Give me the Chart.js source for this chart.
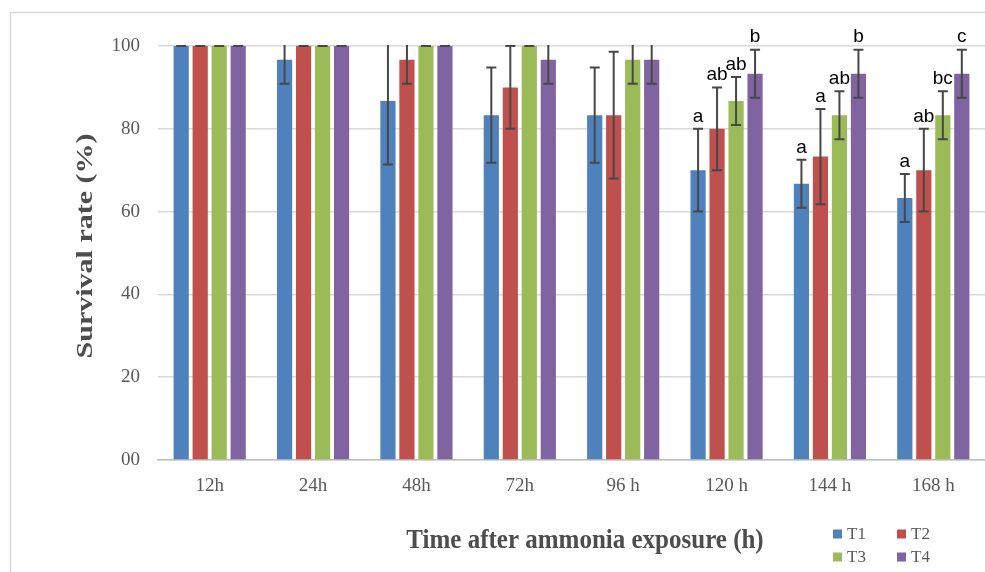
<!DOCTYPE html>
<html>
<head>
<meta charset="utf-8">
<title>Survival rate</title>
<script src="https://cdn.jsdelivr.net/npm/chart.js@4"></script>
<style>
  html, body { margin: 0; padding: 0; background: #fff; }
  #wrap { width: 985px; height: 572px; position: relative; }
</style>
</head>
<body>
<div id="wrap"><canvas id="grafico" width="985" height="572"></canvas></div>
<script>
// --- dados ---
const categorias = ['12h', '24h', '48h', '72h', '96 h', '120 h', '144 h', '168 h'];
const yTickLabels = ['00', '20', '40', '60', '80', '100'];

const nomesSeries = ['T1', 'T2', 'T3', 'T4'];
const coresSeries = ['#4f81bd', '#c0504d', '#9bbb59', '#8064a2'];

const valoresT1 = [100, 96.7, 86.7, 83.3, 83.3, 70, 66.7, 63.3];
const valoresT2 = [100, 100, 96.7, 90, 83.3, 80, 73.3, 70];
const valoresT3 = [100, 100, 100, 100, 96.7, 86.7, 83.3, 83.3];
const valoresT4 = [100, 100, 100, 96.7, 96.7, 93.3, 93.3, 93.3];

const erroT1 = [0, 5.8, 15.3, 11.5, 11.5, 10, 5.8, 5.8];
const erroT2 = [0, 0, 5.8, 10, 15.3, 10, 11.5, 10];
const erroT3 = [0, 0, 0, 0, 5.8, 5.8, 5.8, 5.8];
const erroT4 = [0, 0, 0, 5.8, 5.8, 5.8, 5.8, 5.8];

const letrasT1 = ['', '', '', '', '', 'a', 'a', 'a'];
const letrasT2 = ['', '', '', '', '', 'ab', 'a', 'ab'];
const letrasT3 = ['', '', '', '', '', 'ab', 'ab', 'bc'];
const letrasT4 = ['', '', '', '', '', 'b', 'b', 'c'];

const valores = [valoresT1, valoresT2, valoresT3, valoresT4];
const erros = [erroT1, erroT2, erroT3, erroT4];
const letras = [letrasT1, letrasT2, letrasT3, letrasT4];

const tituloX = 'Time after ammonia exposure (h)';
const tituloY = 'Survival rate (%)';

const fonteSerif = "'Liberation Serif', 'Times New Roman', serif";
const corTexto = '#595959';
const corTitulo = '#4d4d4d';

// --- barras de erro (desenhadas com as escalas do Chart.js) ---
const pluginErros = {
  id: 'barrasErro',
  afterDatasetsDraw(chart) {
    const ctx = chart.ctx;
    const y = chart.scales.y;
    const area = chart.chartArea;
    ctx.save();
    ctx.beginPath();
    ctx.rect(area.left, area.top - 1, area.right - area.left, area.bottom - area.top + 2);
    ctx.clip();
    ctx.strokeStyle = '#474747';
    ctx.lineWidth = 2;
    chart.data.datasets.forEach((ds, i) => {
      const meta = chart.getDatasetMeta(i);
      meta.data.forEach((bar, j) => {
        const v = ds.data[j];
        const e = erros[i][j];
        const yTop = y.getPixelForValue(v + e);
        const yBot = y.getPixelForValue(v - e);
        const cap = 5;
        ctx.beginPath();
        ctx.moveTo(bar.x, yTop);
        ctx.lineTo(bar.x, yBot);
        ctx.moveTo(bar.x - cap, yTop);
        ctx.lineTo(bar.x + cap, yTop);
        ctx.moveTo(bar.x - cap, yBot);
        ctx.lineTo(bar.x + cap, yBot);
        ctx.stroke();
      });
    });
    ctx.restore();
  }
};

// --- letras, títulos, legenda e moldura ---
const pluginExtras = {
  id: 'extras',
  afterDraw(chart) {
    const ctx = chart.ctx;
    const y = chart.scales.y;
    ctx.save();

    // letras de significância
    ctx.fillStyle = '#000';
    ctx.font = "19px 'Liberation Sans', Arial, sans-serif";
    ctx.textAlign = 'center';
    ctx.textBaseline = 'bottom';
    chart.data.datasets.forEach((ds, i) => {
      const meta = chart.getDatasetMeta(i);
      meta.data.forEach((bar, j) => {
        const txt = letras[i][j];
        if (!txt) return;
        const topo = Math.min(100 + 3, ds.data[j] + erros[i][j]);
        ctx.fillText(txt, bar.x, y.getPixelForValue(topo) - 3);
      });
    });

    // título do eixo X (um pouco esticado na vertical, como no original)
    ctx.fillStyle = corTitulo;
    ctx.font = 'bold 25px ' + fonteSerif;
    ctx.textBaseline = 'middle';
    ctx.save();
    ctx.translate(585, 541);
    ctx.scale(1, 1.12);
    ctx.fillText(tituloX, 0, 0);
    ctx.restore();

    // título do eixo Y (rotacionado e alongado)
    ctx.save();
    ctx.translate(86, 246);
    ctx.rotate(-Math.PI / 2);
    ctx.scale(1.25, 1);
    ctx.font = 'bold 24px ' + fonteSerif;
    ctx.fillText(tituloY, 0, 0);
    ctx.restore();

    // legenda 2x2
    ctx.font = '17px ' + fonteSerif;
    ctx.textAlign = 'left';
    chart.data.datasets.forEach((ds, i) => {
      const lx = 833 + (i % 2) * 64;
      const ly = 534 + Math.floor(i / 2) * 23;
      ctx.fillStyle = ds.backgroundColor;
      ctx.fillRect(lx, ly - 4.5, 9, 9);
      ctx.fillStyle = corTexto;
      ctx.fillText(ds.label, lx + 14, ly + 1);
    });

    // moldura do gráfico
    ctx.strokeStyle = '#d9d9d9';
    ctx.lineWidth = 1.5;
    ctx.beginPath();
    ctx.moveTo(10.5, 572);
    ctx.lineTo(10.5, 12.5);
    ctx.lineTo(985, 12.5);
    ctx.stroke();
    ctx.restore();
  }
};

const ctx = document.getElementById('grafico').getContext('2d');
new Chart(ctx, {
  type: 'bar',
  data: {
    labels: categorias,
    datasets: nomesSeries.map((nome, i) => ({
      label: nome,
      data: valores[i],
      backgroundColor: coresSeries[i],
      borderWidth: 0,
      categoryPercentage: 0.735,
      barPercentage: 0.8
    }))
  },
  options: {
    responsive: false,
    animation: false,
    layout: { padding: { left: 10, top: 46, right: 0, bottom: 0 } },
    plugins: {
      legend: { display: false },
      tooltip: { enabled: false }
    },
    scales: {
      x: {
        grid: { display: false, drawTicks: false },
        border: { display: true, color: '#bfbfbf', width: 1.5 },
        ticks: { color: corTexto, font: { family: fonteSerif, size: 19 }, padding: 15 },
        afterFit(scale) { scale.height = 112; }
      },
      y: {
        min: 0,
        max: 100,
        grid: { color: '#d9d9d9', lineWidth: 1.5, drawTicks: false },
        border: { display: false },
        ticks: {
          stepSize: 20,
          color: corTexto,
          font: { family: fonteSerif, size: 19 },
          padding: 18,
          callback: (v, idx) => yTickLabels[idx]
        },
        afterFit(scale) { scale.width = 148; }
      }
    }
  },
  plugins: [pluginErros, pluginExtras]
});
</script>
</body>
</html>
